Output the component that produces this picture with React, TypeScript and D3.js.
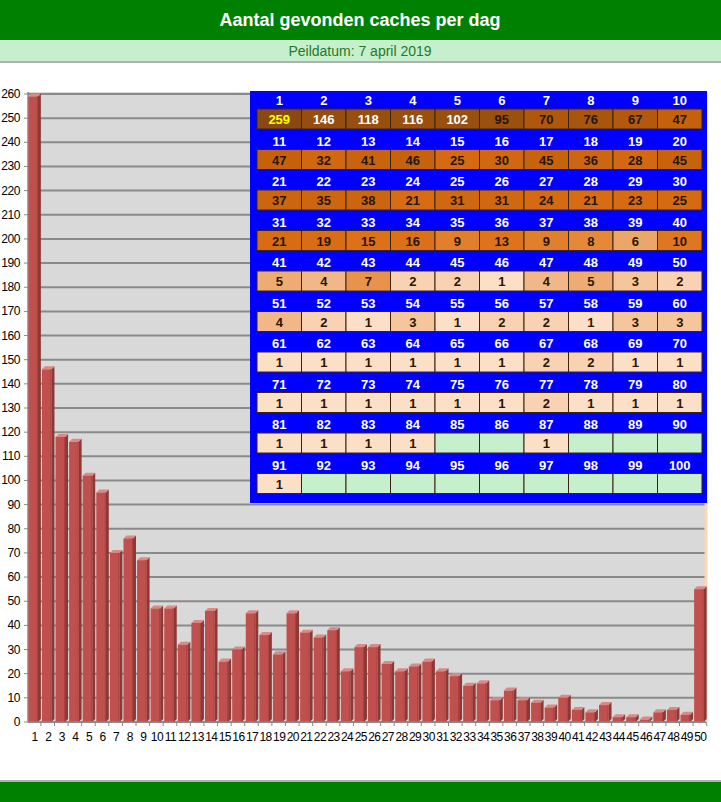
import React from "react";
import * as d3 from "d3";

const TITLE = "Aantal gevonden caches per dag";
const SUBTITLE = "Peildatum: 7 april 2019";

const barLabels = d3.range(1, 51).map(String);
const barValues = [
  259, 146, 118, 116, 102, 95, 70, 76, 67, 47,
  47, 32, 41, 46, 25, 30, 45, 36, 28, 45,
  37, 35, 38, 21, 31, 31, 24, 21, 23, 25,
  21, 19, 15, 16, 9, 13, 9, 8, 6, 10,
  5, 4, 7, 2, 2, 1, 4, 5, 3, 55,
];

const yTicks = d3.range(0, 261, 10);

const tableDays = d3.range(1, 101);
const tableCounts: (number | null)[] = [
  259, 146, 118, 116, 102, 95, 70, 76, 67, 47,
  47, 32, 41, 46, 25, 30, 45, 36, 28, 45,
  37, 35, 38, 21, 31, 31, 24, 21, 23, 25,
  21, 19, 15, 16, 9, 13, 9, 8, 6, 10,
  5, 4, 7, 2, 2, 1, 4, 5, 3, 2,
  4, 2, 1, 3, 1, 2, 2, 1, 3, 3,
  1, 1, 1, 1, 1, 1, 2, 2, 1, 1,
  1, 1, 1, 1, 1, 1, 2, 1, 1, 1,
  1, 1, 1, 1, null, null, 1, null, null, null,
  1, null, null, null, null, null, null, null, null, null,
];

const W = 721;
const H = 802;
const PL = 28, PR = 706, PT = 94, PB = 722;

const FONT = "Liberation Sans, Arial, sans-serif";

export default function App() {
  const x = d3.scaleBand<string>().domain(barLabels).range([PL, PR]).paddingInner(0.3).paddingOuter(0.1);
  const y = d3.scaleLinear().domain([0, 260]).range([PB, PT]);
  const heat = d3
    .scaleLinear<string>()
    .domain([1, 2, 3, 4, 5, 6, 7, 8, 10, 20, 50, 90, 260])
    .range(["#fbdfc6", "#f8d2b2", "#f5c59c", "#f1b788", "#eeab73", "#eba66b", "#e8934c", "#e5883a", "#df7620", "#d86c14", "#c3600c", "#9a500e", "#8a4912"])
    .interpolate(d3.interpolateRgb)
    .clamp(true);

  const step = x.step();
  const bw = x.bandwidth();
  const depth = 3;

  const cellX0 = 257, cellW = 44.5, rowP = 40.5, cellY0 = 109, cellH = 20;

  return (
    <svg width={W} height={H} style={{ position: "absolute", left: 0, top: 0 }} fontFamily={FONT}>
      <rect x={0} y={0} width={W} height={H} fill="#ffffff" />
      {/* header */}
      <rect x={0} y={0} width={W} height={40} fill="#008000" />
      <text x={360} y={26} textAnchor="middle" fill="#ffffff" fontSize={18} fontWeight="bold">{TITLE}</text>
      <rect x={0} y={40} width={W} height={21} fill="#c6efce" />
      <rect x={0} y={61} width={W} height={2} fill="#b0b0b0" />
      <text x={360} y={56} textAnchor="middle" fill="#1f7a1f" fontSize={14}>{SUBTITLE}</text>

      {/* plot area */}
      <rect x={PL} y={PT - 2} width={PR - PL} height={PB - PT + 2} fill="#d9d9d9" />
      {yTicks.map((t) => (
        <g key={t}>
          <line x1={PL} x2={PR} y1={y(t)} y2={y(t)} stroke="#8a8a8a" strokeWidth={2} />
          <line x1={PL - 4} x2={PL} y1={y(t)} y2={y(t)} stroke="#8a8a8a" strokeWidth={1} />
          <text x={20} y={y(t) + 4} textAnchor="end" fontSize={12} fill="#000" letterSpacing={-0.4}>{t}</text>
        </g>
      ))}
      <line x1={PL} x2={PL} y1={PT - 2} y2={PB} stroke="#8a8a8a" strokeWidth={1.5} />
      <line x1={PR} x2={PR} y1={PT - 2} y2={PB} stroke="#fcd5b4" strokeWidth={3} />

      {/* bars */}
      {barLabels.map((lab, i) => {
        const v = barValues[i];
        const bx = x(lab)! - 1;
        const by = y(v);
        return (
          <g key={lab}>
            <polygon
              points={`${bx + bw},${by} ${bx + bw + depth},${by - depth} ${bx + bw + depth},${PB - depth} ${bx + bw},${PB}`}
              fill="#8c3836"
            />
            <polygon
              points={`${bx},${by} ${bx + depth},${by - depth} ${bx + bw + depth},${by - depth} ${bx + bw},${by}`}
              fill="#d98a88"
            />
            <rect x={bx} y={by} width={bw} height={PB - by} fill="#c0504d" />
            <line x1={bx + bw - 0.5} x2={bx + bw - 0.5} y1={by} y2={PB} stroke="#a8423f" strokeWidth={1} />
          </g>
        );
      })}

      {/* x axis */}
      <line x1={PL} x2={PR} y1={PB} y2={PB} stroke="#8a8a8a" strokeWidth={1.5} />
      {barLabels.map((lab, i) => (
        <g key={"xl" + lab}>
          <line x1={PL + step * 0.1 + i * step + step - step * 0.15} x2={PL + step * 0.1 + i * step + step - step * 0.15} y1={PB} y2={PB + 4} stroke="#8a8a8a" />
          <text x={x(lab)! + bw / 2 + 0.5} y={741} textAnchor="middle" fontSize={12} fill="#000" letterSpacing={-0.6}>{lab}</text>
        </g>
      ))}

      {/* table */}
      <rect x={250} y={91} width={457} height={412} fill="#0000ff" />
      {tableDays.map((d, i) => {
        const r = Math.floor(i / 10);
        const c = i % 10;
        const v = tableCounts[i];
        const cx = cellX0 + c * cellW;
        const cy = cellY0 + r * rowP;
        const fill = v == null ? "#c6efce" : heat(v);
        const tc = v == null ? "#000" : v === d3.max(tableCounts as number[]) ? "#ffff00" : v >= 100 ? "#ffffff" : "#2a1500";
        return (
          <g key={"t" + d}>
            <text x={cx + cellW / 2} y={cy - 4} textAnchor="middle" fontSize={13} fontWeight="bold" fill="#ffffff">{d}</text>
            <rect x={cx} y={cy} width={cellW} height={cellH} fill={fill} stroke="#3a2410" strokeWidth={1} />
            {v != null && (
              <text x={cx + cellW / 2} y={cy + 15} textAnchor="middle" fontSize={13} fontWeight="bold" fill={tc}>{v}</text>
            )}
          </g>
        );
      })}

      {/* footer */}
      <rect x={0} y={780} width={W} height={2} fill="#b0b0b0" />
      <rect x={0} y={782} width={W} height={20} fill="#008000" />
    </svg>
  );
}
